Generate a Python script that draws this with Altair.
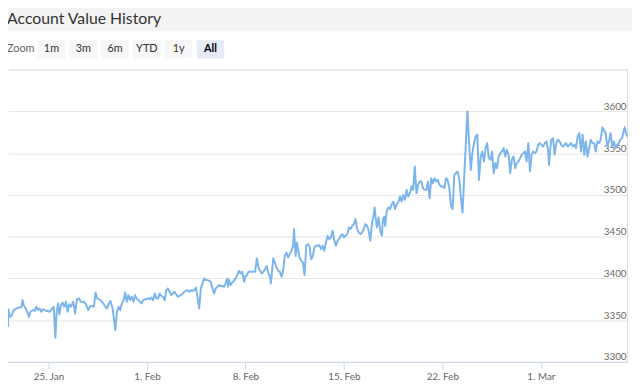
import altair as alt
import pandas as pd

TITLE = "Account Value History"
ZOOM_LABEL = "Zoom"
BUTTONS = ["1m", "3m", "6m", "YTD", "1y", "All"]
SELECTED = "All"
START = "2021-01-22 03:00"

# hours after START
HOURS = [0, 0.5, 3.4, 6.2, 8.9, 11.8, 14.7, 17.3, 20.2, 23.1, 24.8, 26.9, 31.5, 35.9, 38.2, 42.6,
         45.5, 48.3, 51.0, 53.9, 56.8, 59.5, 62.4, 65.2, 68.0, 70.7, 75.3, 78.0, 80.8, 83.0, 85.4,
         87.6, 90.4, 93.1, 96.0, 98.9, 101.6, 104.4, 107.3, 111.2, 114.5, 117.4, 121.3, 124.1,
         126.9, 129.7, 133.6, 136.9, 141.0, 143.8, 146.5, 149.4, 152.1, 155.0, 157.8, 160.5,
         163.3, 166.2, 168.9, 171.7, 174.7, 178.5, 183.1, 185.8, 188.6, 191.5, 194.2, 197.1,
         199.9, 202.6, 205.5, 208.3, 211.0, 213.9, 216.7, 219.4, 222.3, 225.2, 227.9, 230.7,
         234.9, 239.1, 241.9, 244.7, 247.5, 250.4, 253.1, 256.0, 258.8, 261.6, 264.4, 267.3,
         270.0, 272.8, 275.7, 278.4, 281.3, 284.1, 286.8, 289.7, 292.5, 295.2, 298.1, 300.9,
         303.6, 306.5, 309.4, 312.1, 315.0, 317.8, 320.5, 326.2, 328.9, 331.8, 334.7, 337.4,
         340.3, 343.1, 345.8, 348.7, 351.6, 354.3, 357.2, 360.0, 362.7, 365.6, 368.5, 371.2,
         374.1, 375.3, 376.9, 379.6, 382.5, 385.4, 388.1, 391.0, 393.8, 396.5, 399.4, 403.0,
         404.7, 407.6, 410.5, 413.1, 416.0, 418.8, 421.6, 424.4, 427.3, 430.0, 432.8, 435.7,
         438.4, 441.3, 444.2, 446.8, 448.5, 450.9, 452.5, 455.2, 458.1, 461.0, 463.7, 466.6,
         469.4, 472.1, 475.0, 477.8, 480.5, 483.4, 486.3, 487.9, 488.9, 490.6, 493.0, 494.6,
         497.4, 500.3, 503.1, 505.8, 507.5, 508.6, 511.5, 514.2, 517.1, 520.0, 522.6, 525.5,
         528.4, 531.0, 533.9, 536.8, 539.5, 542.3, 545.2, 547.9, 550.8, 553.6, 556.3, 559.2,
         562.0, 564.7, 567.6, 570.4, 573.1, 576.0, 578.9, 581.5, 584.4, 587.3, 590.0, 592.8,
         595.7, 598.4, 601.3, 604.1, 606.8, 609.7, 612.6, 615.2, 618.1, 621.0, 623.6, 625.3,
         627.7, 629.4, 632.1, 634.9, 637.8, 639.5, 641.7, 643.4, 646.2, 648.9, 651.8, 654.7,
         657.3, 660.2, 663.1, 665.8, 668.7, 671.5, 674.2, 677.1, 680.0, 682.6, 685.5, 688.4,
         691.1, 693.9, 696.8, 699.5, 702.3, 705.2, 707.9, 710.8, 713.6, 716.3, 719.2, 722.0,
         724.7, 727.6, 730.5, 733.1, 736.0, 738.9, 741.6, 744.4, 747.3, 750.0, 752.8, 755.7,
         758.4, 761.3, 764.1, 766.8, 769.7, 772.6, 775.3, 778.1, 781.0, 783.7, 786.5, 789.4,
         792.1, 795.0, 797.8, 800.5, 803.4, 806.3, 808.9, 811.8, 814.7, 817.4, 820.2, 823.1,
         825.8, 828.6, 831.5, 834.2, 837.0, 839.9, 842.6, 845.5, 848.3, 851.0, 853.9, 856.7,
         859.4, 862.3, 865.2, 867.8, 870.7, 873.6, 876.3, 879.2, 882.0, 884.7, 887.6, 890.4,
         893.1, 896.0, 898.9, 901.5, 904.4, 907.3, 909.9, 912.8, 915.7, 918.4, 921.2, 922.9,
         925.1, 926.8, 929.7, 932.5, 935.2, 938.1, 940.9, 943.6, 946.5, 949.4, 952.0, 954.9,
         957.8, 960.5, 963.3, 966.2, 968.9, 971.7, 974.6, 977.3, 980.2, 983.0, 985.7, 988.6,
         991.4, 994.1, 997.0, 999.9, 1002.6, 1005.4, 1008.3, 1011.0, 1013.9, 1016.7, 1019.4,
         1022.3, 1025.1, 1027.8, 1030.7, 1033.6, 1036.2, 1039.1, 1042.0, 1044.6, 1047.5,
         1050.4, 1052.1, 1053.1, 1056.0]

VALUES = [3342, 3363, 3354, 3355, 3361, 3363, 3364, 3365, 3365, 3366, 3374, 3368, 3362, 3354, 3360,
          3362, 3361, 3366, 3362, 3364, 3360, 3363, 3362, 3361, 3361, 3360, 3364, 3366, 3329, 3360,
          3370, 3357, 3368, 3371, 3366, 3372, 3360, 3369, 3366, 3372, 3358, 3375, 3376, 3372,
          3372, 3372, 3368, 3362, 3367, 3367, 3366, 3383, 3376, 3375, 3374, 3372, 3369, 3366,
          3364, 3369, 3373, 3364, 3338, 3360, 3366, 3362, 3370, 3374, 3383, 3372, 3380, 3374,
          3378, 3372, 3380, 3376, 3374, 3372, 3370, 3374, 3375, 3376, 3375, 3377, 3374, 3382,
          3376, 3376, 3382, 3379, 3378, 3374, 3386, 3388, 3384, 3380, 3382, 3384, 3381, 3378,
          3379, 3380, 3382, 3384, 3385, 3386, 3384, 3386, 3385, 3386, 3389, 3364, 3388, 3394,
          3400, 3398, 3398, 3397, 3396, 3388, 3382, 3388, 3390, 3392, 3391, 3391, 3390, 3394,
          3400, 3390, 3398, 3392, 3395, 3397, 3400, 3404, 3409, 3406, 3408, 3396, 3402, 3404,
          3408, 3408, 3408, 3408, 3408, 3424, 3413, 3409, 3406, 3408, 3411, 3415, 3406, 3402,
          3394, 3413, 3424, 3419, 3413, 3409, 3408, 3402, 3409, 3427, 3431, 3425, 3429, 3433,
          3439, 3459, 3447, 3427, 3443, 3435, 3425, 3421, 3419, 3404, 3423, 3439, 3441, 3439,
          3423, 3427, 3437, 3439, 3439, 3440, 3435, 3439, 3433, 3443, 3451, 3447, 3449, 3457,
          3447, 3439, 3445, 3447, 3451, 3453, 3449, 3451, 3453, 3461, 3459, 3463, 3465, 3471,
          3459, 3455, 3453, 3455, 3459, 3465, 3463, 3457, 3445, 3467, 3475, 3485, 3469, 3461,
          3473, 3457, 3451, 3471, 3474, 3463, 3481, 3485, 3483, 3489, 3492, 3483, 3489, 3491,
          3498, 3492, 3500, 3494, 3506, 3498, 3502, 3510, 3506, 3534, 3502, 3512, 3516, 3516,
          3508, 3506, 3506, 3516, 3496, 3520, 3514, 3520, 3516, 3518, 3512, 3510, 3510, 3508,
          3520, 3518, 3508, 3487, 3483, 3524, 3526, 3528, 3520, 3496, 3479, 3520, 3562, 3600,
          3562, 3530, 3550, 3562, 3570, 3572, 3518, 3546, 3552, 3540, 3556, 3562, 3544, 3542,
          3552, 3526, 3538, 3532, 3546, 3550, 3552, 3556, 3546, 3554, 3548, 3526, 3542, 3546,
          3532, 3538, 3540, 3544, 3548, 3550, 3552, 3540, 3562, 3528, 3548, 3552, 3550, 3552,
          3560, 3562, 3560, 3558, 3562, 3564, 3554, 3536, 3556, 3566, 3568, 3548, 3562, 3566,
          3564, 3560, 3558, 3560, 3562, 3558, 3560, 3562, 3558, 3560, 3556, 3570, 3574, 3552,
          3572, 3548, 3564, 3546, 3556, 3566, 3562, 3562, 3552, 3564, 3562, 3566, 3581, 3577,
          3574, 3558, 3564, 3574, 3558, 3564, 3556, 3560, 3562, 3566, 3568, 3577, 3581, 3577,
          3570]

Y_TICKS = [3300, 3350, 3400, 3450, 3500, 3550, 3600, 3650]
X_TICKS = [(1, 25), (2, 1), (2, 8), (2, 15), (2, 22), (3, 1)]

df = pd.DataFrame({
    "time": pd.Timestamp(START) + pd.to_timedelta(HOURS, unit="h"),
    "value": VALUES,
})

FONT = "Lato"

line = alt.Chart(df).mark_line(color="#7cb5ec", strokeWidth=2, strokeJoin="round").encode(
    x=alt.X("time:T", scale=alt.Scale(nice=False),
            axis=alt.Axis(values=[alt.DateTime(year=2021, month=m, date=d) for m, d in X_TICKS],
                          format="%-d. %b", grid=False, domain=True, domainColor="#ccd6eb",
                          tickColor="#ccd6eb", tickSize=7, labelPadding=3, labelFont=FONT,
                          labelFontSize=10, labelColor="#666666", title=None,
                          labelFlush=False, labelOverlap=False)),
    y=alt.Y("value:Q", scale=alt.Scale(domain=[3300, 3650], nice=False, zero=False),
            axis=alt.Axis(orient="right", values=Y_TICKS, format="d", grid=True,
                          gridColor="#e6e6e6", domain=False, ticks=False, tickSize=0,
                          labelAlign="right", labelBaseline="bottom", labelPadding=-1,
                          labelFont=FONT, labelFontSize=10, labelColor="#666666", title=None,
                          labelOverlap=False, labelFlush=False,
                          labelExpr="datum.value >= 3650 ? '' : datum.label")),
)

one = pd.DataFrame({"t": [TITLE], "z": [ZOOM_LABEL]})

# white cover for the stray frame edge at the left of the plot (drawn under the data line)
left_cover = alt.Chart(one).mark_rule(color="white", strokeWidth=2).encode(
    x=alt.value(0), y=alt.value(0), y2=alt.value(295))

header = alt.Chart(one).mark_rect(color="#f3f3f4").encode(
    x=alt.value(-8), x2=alt.value(640), y=alt.value(-68), y2=alt.value(-39))

title = alt.Chart(one).mark_text(font=FONT, fontSize=16, color="#333333", align="left",
                                 baseline="alphabetic").encode(
    x=alt.value(-1), y=alt.value(-46), text="t:N")

zoom_lbl = alt.Chart(one).mark_text(font=FONT, fontSize=11, color="#666666", align="left",
                                    baseline="middle").encode(
    x=alt.value(-1), y=alt.value(-20.5), text="z:N")

# range-selector buttons (decoration): left edge, spacing and width in pixels
BTN_LEFT, BTN_STEP, BTN_W = 30, 32.2, 28
btn_layers = []
for i, lab in enumerate(BUTTONS):
    sel = lab == SELECTED
    bdf = pd.DataFrame({"label": [lab]})
    left = BTN_LEFT + i * BTN_STEP
    btn_layers.append(alt.Chart(bdf).mark_rect(
        cornerRadius=2, color="#e6ebf5" if sel else "#f7f7f7").encode(
        x=alt.value(left), x2=alt.value(left + BTN_W), y=alt.value(-30), y2=alt.value(-11)))
    btn_layers.append(alt.Chart(bdf).mark_text(
        font=FONT, fontSize=11, baseline="middle", align="center",
        color="#000000" if sel else "#333333",
        fontWeight="bold" if sel else "normal").encode(
        x=alt.value(left + BTN_W / 2), y=alt.value(-21), text="label:N"))

chart = alt.layer(left_cover, line, header, title, zoom_lbl, *btn_layers).properties(
    width=627, height=296,
    padding={"left": 0, "top": 60, "right": 5, "bottom": 23},
    autosize=alt.AutoSizeParams(type="none"),
).configure_view(
    stroke="transparent", strokeWidth=0
).configure(background="white")

chart.save("out.html", embed_options={"renderer": "svg", "actions": False})
